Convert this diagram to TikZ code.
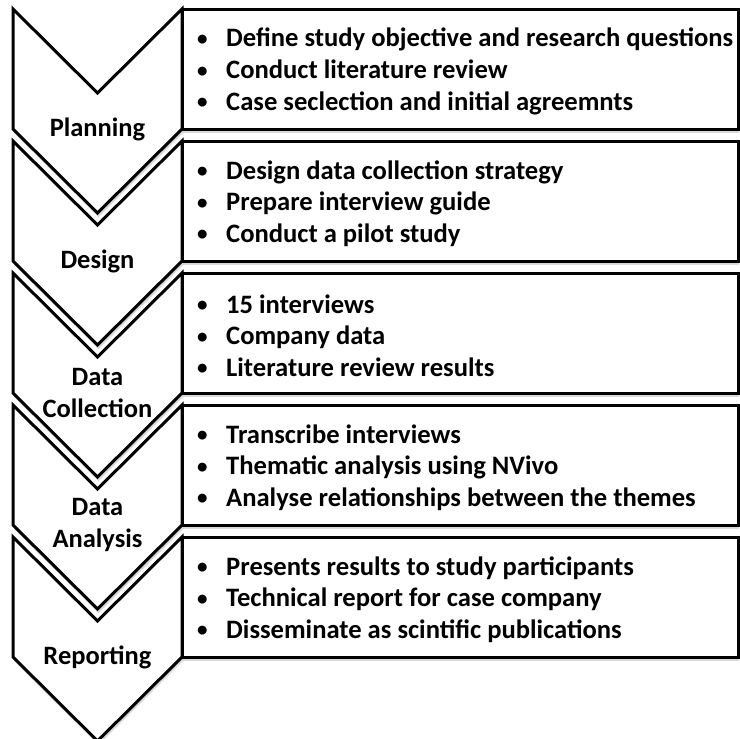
\documentclass[tikz,border=0pt]{standalone}
\usepackage{fontspec}
\setmainfont{Carlito}
\usetikzlibrary{positioning, shadows}
\tikzstyle{stage} = [draw=black, line width=3pt, fill=white, line join=miter, drop shadow={shadow xshift=1pt, shadow yshift=-4pt, opacity=0.3, fill=black!50}]
\tikzstyle{tasks} = [rectangle, minimum width=556pt, minimum height=120pt, draw=black, line width=3pt, fill=white, drop shadow={shadow xshift=1pt, shadow yshift=-4pt, opacity=0.3, fill=black!50}]
\tikzstyle{items} = [align=left, inner sep=0pt, anchor=west, font=\bfseries\fontsize{26.6}{31.7}\selectfont]
\tikzstyle{stagename} = [align=center, inner sep=0pt, font=\bfseries\fontsize{26.5}{31.7}\selectfont]
\newcommand{\taskbullet}{\makebox[30pt][l]{\hspace{1pt}\raisebox{1.5pt}{\fontsize{21}{0}\selectfont\textbullet}}}

\begin{document}
\begin{tikzpicture}[x=1pt, y=1pt, node distance=132pt]
\useasboundingbox (0,0) rectangle (740,-739);
% chevrons
\draw [stage] (13,-9) -- ++(84.5,-84) -- ++(84.5,84) -- ++(0,-120) -- ++(-84.5,-84) -- ++(-84.5,84) -- cycle;
\draw [stage] (13,-141) -- ++(84.5,-84) -- ++(84.5,84) -- ++(0,-120) -- ++(-84.5,-84) -- ++(-84.5,84) -- cycle;
\draw [stage] (13,-273) -- ++(84.5,-84) -- ++(84.5,84) -- ++(0,-120) -- ++(-84.5,-84) -- ++(-84.5,84) -- cycle;
\draw [stage] (13,-405) -- ++(84.5,-84) -- ++(84.5,84) -- ++(0,-120) -- ++(-84.5,-84) -- ++(-84.5,84) -- cycle;
\draw [stage] (13,-537) -- ++(84.5,-84) -- ++(84.5,84) -- ++(0,-120) -- ++(-84.5,-84) -- ++(-84.5,84) -- cycle;
% task boxes
\node (box1) [tasks] at (460,-69) {};
\node (box2) [tasks, below of=box1] {};
\node (box3) [tasks, below of=box2] {};
\node (box4) [tasks, below of=box3] {};
\node (box5) [tasks, below of=box4] {};
% task lists
\node (list1) [items, right=15.5pt of box1.west, yshift=-2.5pt] {\taskbullet Define study objective and research questions\\ \taskbullet Conduct literature review\\ \taskbullet Case seclection and initial agreemnts};
\node (list2) [items, right=15.5pt of box2.west, yshift=-2.5pt] {\taskbullet Design data collection strategy\\ \taskbullet Prepare interview guide\\ \taskbullet Conduct a pilot study};
\node (list3) [items, right=15.5pt of box3.west, yshift=-2.5pt] {\taskbullet 15 interviews\\ \taskbullet Company data\\ \taskbullet Literature review results};
\node (list4) [items, right=15.5pt of box4.west, yshift=-2.5pt] {\taskbullet Transcribe interviews\\ \taskbullet Thematic analysis using NVivo\\ \taskbullet Analyse relationships between the themes};
\node (list5) [items, right=15.5pt of box5.west, yshift=-2.5pt] {\taskbullet Presents results to study participants\\ \taskbullet Technical report for case company\\ \taskbullet Disseminate as scintific publications};
% stage names
\node (plan) [stagename] at (97.5,-129) {Planning};
\node (design) [stagename, below of=plan] {Design};
\node (collect) [stagename, below of=design] {Data\\Collection};
\node (analyse) [stagename, below of=collect] {Data\\Analysis};
\node (report) [stagename, below of=analyse] {Reporting};
\end{tikzpicture}
\end{document}
